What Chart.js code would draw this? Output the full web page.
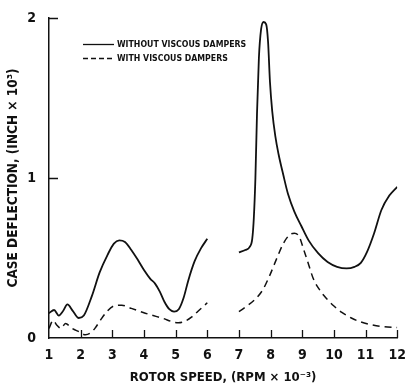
<!DOCTYPE html>
<html>
<head>
<meta charset="utf-8">
<script src="https://cdn.jsdelivr.net/npm/chart.js@4"></script>
<style>
  html, body { margin: 0; padding: 0; background: #fff; }
  #wrap { width: 407px; height: 386px; }
</style>
</head>
<body>
<div id="wrap"><canvas id="chart"></canvas></div>
<script>
// rotor speed (rpm x 10^-3) and case deflection (inch x 10^3)
var withoutX1 = [1, 1.16, 1.31, 1.45, 1.58, 1.75, 1.94, 2.1, 2.35, 2.6, 2.85, 3.05, 3.22, 3.4, 3.6, 3.8, 4.0, 4.2, 4.35, 4.5, 4.65, 4.8, 4.95, 5.1, 5.25, 5.4, 5.6, 5.8, 6.0];
var withoutY1 = [0.155, 0.175, 0.14, 0.17, 0.21, 0.17, 0.125, 0.14, 0.26, 0.41, 0.52, 0.59, 0.61, 0.6, 0.55, 0.49, 0.425, 0.37, 0.34, 0.29, 0.225, 0.18, 0.165, 0.18, 0.25, 0.36, 0.48, 0.56, 0.62];
var withoutX2 = [7.0, 7.2, 7.34, 7.42, 7.47, 7.52, 7.57, 7.63, 7.7, 7.78, 7.86, 7.92, 7.98, 8.05, 8.15, 8.25, 8.4, 8.55, 8.75, 8.97, 9.2, 9.5, 9.8, 10.1, 10.4, 10.65, 10.85, 11.05, 11.27, 11.5, 11.75, 12];
var withoutY2 = [0.535, 0.55, 0.57, 0.62, 0.75, 1.0, 1.4, 1.75, 1.93, 1.975, 1.96, 1.85, 1.6, 1.42, 1.26, 1.15, 1.02, 0.9, 0.79, 0.7, 0.61, 0.53, 0.475, 0.445, 0.435, 0.445, 0.47, 0.54, 0.655, 0.8, 0.89, 0.945];

var withX1 = [1, 1.13, 1.25, 1.38, 1.52, 1.73, 1.94, 2.15, 2.3, 2.45, 2.62, 2.85, 3.05, 3.3, 3.6, 4.04, 4.56, 5.09, 5.3, 5.5, 5.75, 6.0];
var withY1 = [0.06, 0.11, 0.08, 0.06, 0.09, 0.06, 0.04, 0.02, 0.03, 0.06, 0.11, 0.17, 0.2, 0.205, 0.185, 0.155, 0.125, 0.095, 0.105, 0.13, 0.175, 0.22];
var withX2 = [7.0, 7.25, 7.5, 7.75, 7.97, 8.2, 8.4, 8.6, 8.75, 8.9, 9.05, 9.2, 9.35, 9.55, 9.75, 10.0, 10.25, 10.55, 10.85, 11.2, 11.5, 12];
var withY2 = [0.165, 0.2, 0.24, 0.3, 0.39, 0.5, 0.59, 0.645, 0.655, 0.635, 0.55, 0.46, 0.37, 0.3, 0.25, 0.2, 0.16, 0.125, 0.1, 0.082, 0.072, 0.065];

var seriesNames = ['WITHOUT VISCOUS DAMPERS', 'WITH VISCOUS DAMPERS'];
var xTicks = [1, 2, 3, 4, 5, 6, 7, 8, 9, 10, 11, 12];
var yTicks = [0, 1, 2];

var FONT = '"Liberation Sans Narrow", "DejaVu Sans Condensed", sans-serif';
var INK = '#111';

function points(xs, ys) {
  var out = [];
  for (var i = 0; i < xs.length; i++) out.push({ x: xs[i], y: ys[i] });
  return out;
}

// null point in between keeps the two pieces of each curve apart
var solidData = points(withoutX1, withoutY1).concat([{ x: 6.5, y: null }], points(withoutX2, withoutY2));
var dashedData = points(withX1, withY1).concat([{ x: 6.5, y: null }], points(withX2, withY2));

// short tick marks pointing into the plot, like the original
var innerTicks = {
  id: 'innerTicks',
  afterDraw: function (chart) {
    var ctx = chart.ctx;
    var xs = chart.scales.x, ys = chart.scales.y;
    ctx.save();
    ctx.strokeStyle = INK;
    ctx.lineWidth = 1.3;
    ctx.beginPath();
    xTicks.forEach(function (v) {
      if (v === 1) return;
      var px = Math.round(xs.getPixelForValue(v)) + 0.5;
      ctx.moveTo(px, ys.bottom);
      ctx.lineTo(px, ys.bottom - 8);
    });
    yTicks.forEach(function (v) {
      if (v === 0) return;
      var py = Math.round(ys.getPixelForValue(v)) + 0.5;
      ctx.moveTo(xs.left, py);
      ctx.lineTo(xs.left + 9, py);
    });
    ctx.stroke();
    ctx.restore();
  }
};

// legend drawn inside the plot, upper left
var insideLegend = {
  id: 'insideLegend',
  afterDraw: function (chart) {
    var ctx = chart.ctx;
    var rows = [44, 58];
    ctx.save();
    ctx.font = 'bold 8.7px ' + FONT;
    ctx.fillStyle = INK;
    ctx.textBaseline = 'middle';
    chart.data.datasets.forEach(function (ds, i) {
      ctx.strokeStyle = ds.borderColor;
      ctx.lineWidth = 1.3;
      ctx.setLineDash(ds.borderDash ? [5, 3] : []);
      ctx.beginPath();
      ctx.moveTo(83, rows[i] + 0.5);
      ctx.lineTo(114, rows[i] + 0.5);
      ctx.stroke();
      ctx.setLineDash([]);
      ctx.fillText(ds.label, 117, rows[i] + 1);
    });
    ctx.restore();
  }
};

new Chart(document.getElementById('chart'), {
  type: 'line',
  data: {
    datasets: [{
      label: seriesNames[0],
      data: solidData,
      borderColor: INK,
      borderWidth: 1.8,
      pointRadius: 0,
      fill: false,
      spanGaps: false,
      cubicInterpolationMode: 'monotone'
    }, {
      label: seriesNames[1],
      data: dashedData,
      borderColor: INK,
      borderWidth: 1.5,
      borderDash: [7, 5],
      pointRadius: 0,
      fill: false,
      spanGaps: false,
      cubicInterpolationMode: 'monotone'
    }]
  },
  options: {
    responsive: true,
    maintainAspectRatio: false,
    animation: false,
    events: [],
    layout: { padding: { top: 18, right: 7, left: 0, bottom: 0 } },
    plugins: {
      legend: { display: false },
      tooltip: { enabled: false }
    },
    scales: {
      x: {
        type: 'linear',
        min: 1,
        max: 12,
        afterFit: function (s) { s.height = 48; },
        afterBuildTicks: function (s) { s.ticks = xTicks.map(function (v) { return { value: v }; }); },
        grid: { display: false },
        border: { display: true, color: INK, width: 1.5 },
        ticks: {
          color: INK,
          padding: 1,
          maxRotation: 0,
          autoSkip: false,
          font: { family: FONT, size: 14, weight: 'bold' }
        },
        title: {
          display: true,
          text: 'ROTOR SPEED, (RPM \u00d7 10\u207b\u00b3)',
          color: INK,
          padding: { top: 0, bottom: 1 },
          font: { family: FONT, size: 13, weight: 'bold' }
        }
      },
      y: {
        type: 'linear',
        min: 0,
        max: 2,
        afterFit: function (s) { s.width = 49; },
        afterBuildTicks: function (s) { s.ticks = yTicks.map(function (v) { return { value: v }; }); },
        grid: { display: false },
        border: { display: true, color: INK, width: 1.5 },
        ticks: {
          color: INK,
          padding: 5,
          font: { family: FONT, size: 14, weight: 'bold' }
        },
        title: {
          display: true,
          text: 'CASE DEFLECTION, (INCH \u00d7 10\u00b3)',
          color: INK,
          padding: { top: 5, bottom: 0 },
          font: { family: FONT, size: 13.5, weight: 'bold' }
        }
      }
    }
  },
  plugins: [innerTicks, insideLegend]
});
</script>
</body>
</html>
